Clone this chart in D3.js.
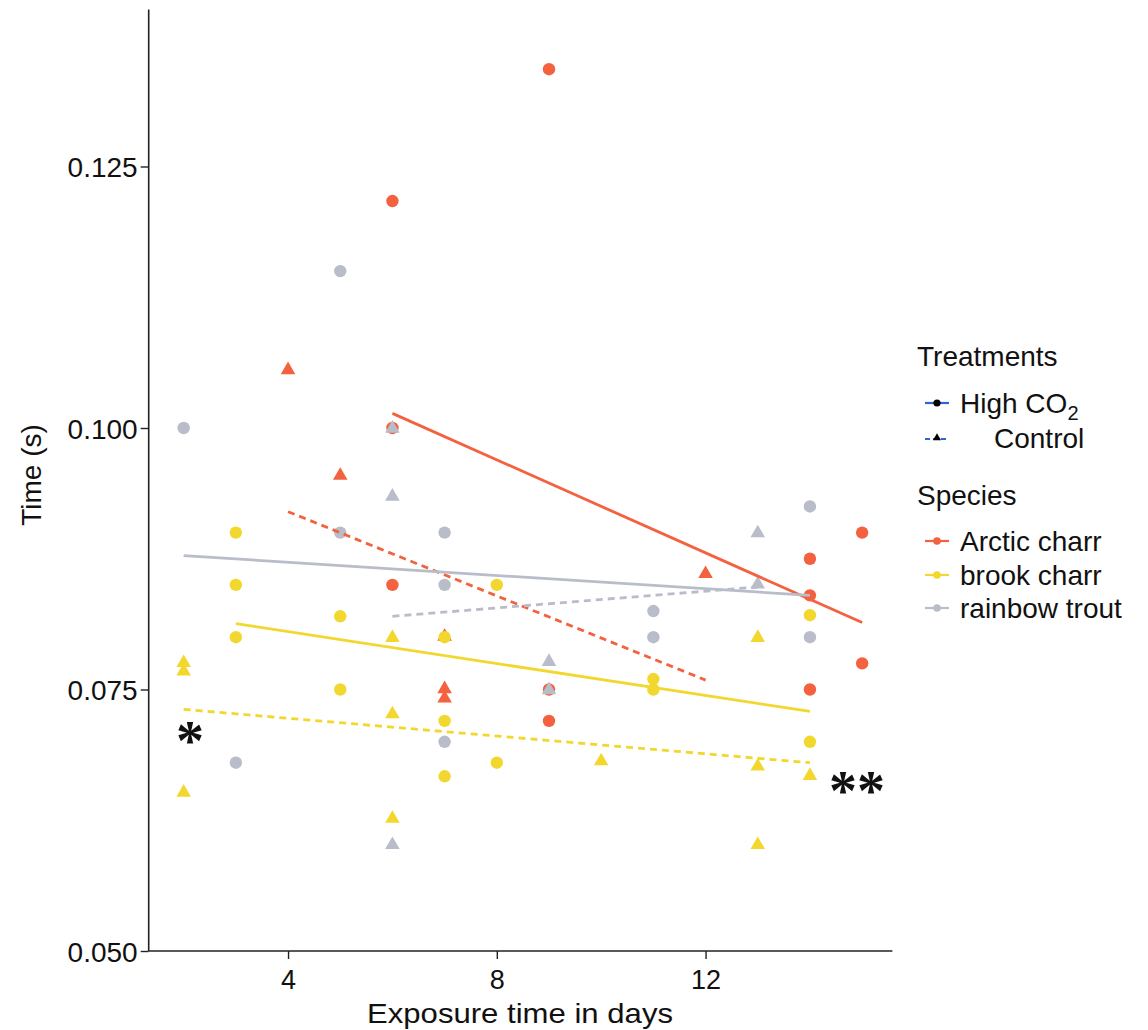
<!DOCTYPE html>
<html>
<head>
<meta charset="utf-8">
<script src="https://cdn.jsdelivr.net/npm/d3@7"></script>
<style>
  html, body { margin: 0; padding: 0; background: #ffffff; }
  svg { display: block; font-family: "Liberation Sans", Arial, sans-serif; }
</style>
</head>
<body>
<svg id="chart" width="1148" height="1030"></svg>
<script>
// ---------- data ----------
const species = ["Arctic charr", "brook charr", "rainbow trout"];
const speciesColors = ["#F4613F", "#F2D82E", "#B9BDC9"];
const treatments = ["High CO2", "Control"];

// points: [day, time]
const arcticHigh = [[6, 0.1217], [6, 0.1000], [6, 0.0850], [9, 0.1343], [9, 0.0750], [9, 0.0720],
  [14, 0.0875], [14, 0.0840], [14, 0.0750], [15, 0.0900], [15, 0.0775]];
const arcticControl = [[4, 0.1056], [5, 0.0955], [7, 0.0801], [7, 0.0751], [7, 0.0742], [12, 0.0861]];
const brookHigh = [[3, 0.0900], [3, 0.0850], [3, 0.0800], [5, 0.0820], [5, 0.0750], [7, 0.0800],
  [7, 0.0720], [7, 0.0667], [8, 0.0850], [8, 0.0680], [11, 0.0760], [11, 0.0750], [14, 0.0821], [14, 0.0700]];
const brookControl = [[2, 0.0776], [2, 0.0768], [2, 0.0652], [6, 0.0800], [6, 0.0727], [6, 0.0627],
  [10, 0.0682], [13, 0.0800], [13, 0.0677], [13, 0.0602], [14, 0.0668]];
const troutHigh = [[2, 0.1000], [3, 0.0680], [5, 0.1150], [5, 0.0900], [7, 0.0900], [7, 0.0850],
  [7, 0.0700], [11, 0.0825], [11, 0.0800], [14, 0.0925], [14, 0.0800]];
const troutControl = [[6, 0.1000], [6, 0.0935], [6, 0.0602], [9, 0.0777], [9, 0.0750], [13, 0.0900], [13, 0.0851]];

// fitted lines: [[x0, y0], [x1, y1]]
const fitArcticHigh = [[6, 0.1014], [15, 0.0814]];
const fitArcticControl = [[4, 0.0920], [12, 0.0759]];
const fitBrookHigh = [[3, 0.0813], [14, 0.0729]];
const fitBrookControl = [[2, 0.0731], [14, 0.0680]];
const fitTroutHigh = [[2, 0.0878], [14, 0.0840]];
const fitTroutControl = [[6, 0.0820], [13, 0.0848]];

const xTicks = [4, 8, 12];
const yTicks = [0.050, 0.075, 0.100, 0.125];

// ---------- layout ----------
const svg = d3.select("#chart");
const x = d3.scaleLinear().domain([1.33, 15.58]).range([148.7, 892.4]);
const y = d3.scaleLinear().domain([0.05, 0.14]).range([951, 9.6]);

const groups = [
  {sp: 0, tr: 0, pts: arcticHigh, fit: fitArcticHigh},
  {sp: 0, tr: 1, pts: arcticControl, fit: fitArcticControl},
  {sp: 1, tr: 0, pts: brookHigh, fit: fitBrookHigh},
  {sp: 1, tr: 1, pts: brookControl, fit: fitBrookControl},
  {sp: 2, tr: 0, pts: troutHigh, fit: fitTroutHigh},
  {sp: 2, tr: 1, pts: troutControl, fit: fitTroutControl}
];

const tri = d3.symbol().type(d3.symbolTriangle).size(92);
const triSmall = d3.symbol().type(d3.symbolTriangle).size(28);

// points
const pg = svg.append("g");
groups.forEach(g => {
  const col = speciesColors[g.sp];
  if (g.tr === 0) {
    pg.selectAll(null).data(g.pts).enter().append("circle")
      .attr("cx", d => x(d[0])).attr("cy", d => y(d[1])).attr("r", 6.2)
      .attr("fill", col);
  } else {
    pg.selectAll(null).data(g.pts).enter().append("path")
      .attr("d", tri)
      .attr("transform", d => `translate(${x(d[0])},${y(d[1]) + 0.5})`)
      .attr("fill", col);
  }
});

// fitted lines
const line = d3.line().x(d => x(d[0])).y(d => y(d[1]));
const lg = svg.append("g");
groups.forEach(g => {
  lg.append("path").datum(g.fit)
    .attr("d", line)
    .attr("fill", "none")
    .attr("stroke", speciesColors[g.sp])
    .attr("stroke-width", 2.8)
    .attr("stroke-dasharray", g.tr === 1 ? "7,5" : null);
});

// ---------- axes ----------
const axisColor = "#222";
const yAxis = svg.append("g").attr("transform", "translate(148.7,0)")
  .call(d3.axisLeft(y).tickValues(yTicks).tickSize(8).tickFormat(d3.format(".3f")));
const xAxis = svg.append("g").attr("transform", "translate(0,951)")
  .call(d3.axisBottom(x).tickValues(xTicks).tickSize(8).tickFormat(d3.format("d")));
[yAxis, xAxis].forEach(a => {
  a.select(".domain").attr("stroke", axisColor).attr("stroke-width", 1.6);
  a.selectAll(".tick line").attr("stroke", axisColor).attr("stroke-width", 1.4);
});
yAxis.select(".domain").attr("d", `M0,${y(0.14)}V${y(0.05)}`);
xAxis.select(".domain").attr("d", `M${x(1.33)},0H${x(15.58)}`);

yAxis.selectAll(".tick text")
  .attr("font-size", 28).attr("fill", "#111")
  .attr("font-family", "Liberation Sans, Arial, sans-serif")
  .attr("x", -11).attr("dy", "0.36em");

xAxis.selectAll(".tick text")
  .attr("font-size", 27).attr("fill", "#111")
  .attr("font-family", "Liberation Sans, Arial, sans-serif")
  .attr("y", 19).attr("dy", "0.71em");

// axis titles
svg.append("text")
  .attr("x", 520).attr("y", 1023)
  .attr("text-anchor", "middle")
  .attr("font-size", 28).attr("fill", "#111")
  .attr("textLength", 306).attr("lengthAdjust", "spacingAndGlyphs")
  .text("Exposure time in days");

svg.append("text")
  .attr("transform", "translate(41,475) rotate(-90)")
  .attr("text-anchor", "middle")
  .attr("font-size", 28).attr("fill", "#111")
  .text("Time (s)");

// significance marks
svg.append("text").attr("x", 190).attr("y", 760)
  .attr("text-anchor", "middle").attr("font-size", 56).attr("font-weight", "bold")
  .attr("font-family", "Liberation Serif, Times New Roman, serif").attr("fill", "#111")
  .text("*");
svg.append("text").attr("x", 857).attr("y", 810)
  .attr("text-anchor", "middle").attr("font-size", 56).attr("font-weight", "bold")
  .attr("font-family", "Liberation Serif, Times New Roman, serif").attr("fill", "#111")
  .text("**");

// ---------- legend ----------
const leg = svg.append("g").attr("font-size", 28).attr("fill", "#111");
const keyBlue = "#2F62D6";
leg.append("text").attr("x", 917).attr("y", 366).text("Treatments");

// High CO2 key
leg.append("line").attr("x1", 925).attr("x2", 949).attr("y1", 403).attr("y2", 403)
  .attr("stroke", keyBlue).attr("stroke-width", 2.2);
leg.append("circle").attr("cx", 937).attr("cy", 403).attr("r", 3.6).attr("fill", "#000");
const t1 = leg.append("text").attr("x", 960).attr("y", 413);
t1.append("tspan").text("High CO");
t1.append("tspan").attr("font-size", 20).attr("dy", 7).text("2");

// Control key
leg.append("line").attr("x1", 925).attr("x2", 949).attr("y1", 439).attr("y2", 439)
  .attr("stroke", keyBlue).attr("stroke-width", 2.2).attr("stroke-dasharray", "5,3");
leg.append("path").attr("d", triSmall).attr("transform", "translate(937,438)").attr("fill", "#000");
leg.append("text").attr("x", 994).attr("y", 448).text("Control");

leg.append("text").attr("x", 917).attr("y", 505).text("Species");
const spY = [541, 575, 608];
species.forEach((s, i) => {
  leg.append("line").attr("x1", 925).attr("x2", 949).attr("y1", spY[i]).attr("y2", spY[i])
    .attr("stroke", speciesColors[i]).attr("stroke-width", 2.2);
  leg.append("circle").attr("cx", 937).attr("cy", spY[i]).attr("r", 3.8).attr("fill", speciesColors[i]);
  leg.append("text").attr("x", 960).attr("y", spY[i] + 10).text(s);
});
</script>
</body>
</html>
